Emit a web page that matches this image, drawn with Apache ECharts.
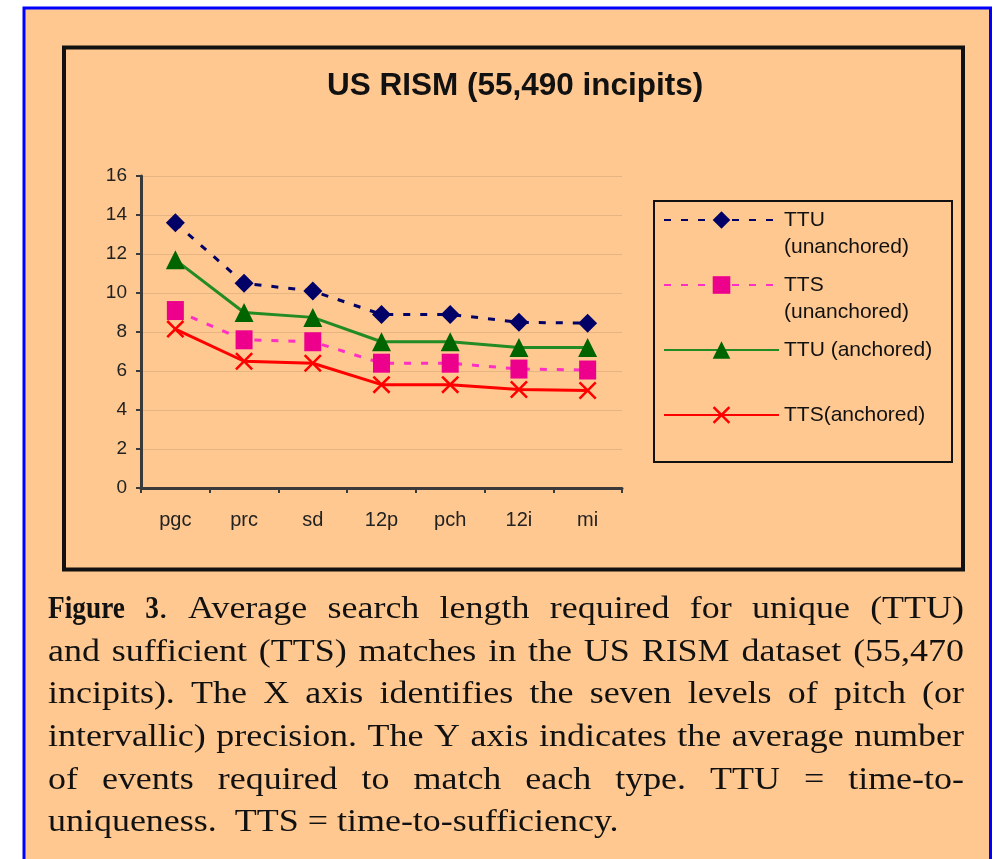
<!DOCTYPE html>
<html>
<head>
<meta charset="utf-8">
<style>
  html, body { margin: 0; padding: 0; background: #fff; }
  #main { width: 998px; height: 859px; }
</style>
<script src="https://cdn.jsdelivr.net/npm/echarts@6.0.0/dist/echarts.min.js"></script>
</head>
<body>
<div id="main"></div>
<script>
// data
const categories = ['pgc', 'prc', 'sd', '12p', 'pch', '12i', 'mi']
const ttuUnanchored = [13.6, 10.5, 10.1, 8.9, 8.9, 8.5, 8.45]
const ttsUnanchored = [9.1, 7.6, 7.5, 6.4, 6.4, 6.1, 6.05]
const ttuAnchored = [11.7, 9.0, 8.75, 7.5, 7.5, 7.2, 7.2]
const ttsAnchored = [8.15, 6.5, 6.4, 5.3, 5.3, 5.05, 5.0]
const yMin = 0
const yMax = 16
const yStep = 2

const chartTitle = 'US RISM (55,490 incipits)'
// ** marks bold parts, last line is not justified
const captionLines = [
  '**Figure 3**. Average search length required for unique (TTU)',
  'and sufficient (TTS) matches in the US RISM dataset (55,470',
  'incipits). The X axis identifies the seven levels of pitch (or',
  'intervallic) precision. The Y axis indicates the average number',
  'of events required to match each type. TTU = time-to-',
  'uniqueness.  TTS = time-to-sufficiency.'
]

const sans = '"Liberation Sans", Arial, sans-serif'
const serif = '"Liberation Serif", "Times New Roman", serif'
const crossPath = 'path://M0,2 L2,0 L10,8 L18,0 L20,2 L12,10 L20,18 L18,20 L10,12 L2,20 L0,18 L8,10 Z'

const chart = echarts.init(document.getElementById('main'))

// split a caption line into words, each word made of (text, bold) pieces
function parseLine(line) {
  const words = []
  let cur = []
  line.split('**').forEach((seg, k) => {
    const bold = k % 2 === 1
    seg.split(' ').forEach((w, j) => {
      if (j > 0) {
        if (cur.length) words.push(cur)
        cur = []
      }
      if (w) cur.push({ text: w, bold })
    })
  })
  if (cur.length) words.push(cur)
  return words
}

// justified caption built as graphic texts
function buildCaption() {
  const fontSize = 31
  const stretch = 1.16
  const boldSqueeze = 0.76 // the bold in the figure is narrow
  const lineWidth = 916 / stretch
  const ctx = document.createElement('canvas').getContext('2d')
  const measure = (t, bold) => {
    ctx.font = (bold ? 'bold ' : '') + fontSize + 'px ' + serif
    return ctx.measureText(t).width * (bold ? boldSqueeze : 1)
  }
  const children = []
  captionLines.forEach((line, i) => {
    const y = 610 + i * 42.6
    const last = i === captionLines.length - 1
    if (last) {
      children.push({
        type: 'text', x: 0, y,
        style: { text: line, fontSize, fontFamily: serif, fill: '#111', verticalAlign: 'middle' }
      })
      return
    }
    const words = parseLine(line)
    const widths = words.map(w => w.reduce((s, p) => s + measure(p.text, p.bold), 0))
    const total = widths.reduce((a, b) => a + b, 0)
    const gap = (lineWidth - total) / (words.length - 1)
    let x = 0
    words.forEach((w, k) => {
      let px = x
      w.forEach(p => {
        children.push({
          type: 'text', x: px, y,
          scaleX: p.bold ? boldSqueeze : 1,
          style: {
            text: p.text, fontSize, fontFamily: serif,
            fontWeight: p.bold ? 'bold' : 'normal',
            fill: '#111', verticalAlign: 'middle'
          }
        })
        px += measure(p.text, p.bold)
      })
      x += widths[k] + gap
    })
  })
  return { type: 'group', x: 48, y: 0, scaleX: stretch, children }
}

const seriesDefs = [
  { name: 'TTU (unanchored)', label: '\nTTU\n(unanchored)', data: ttuUnanchored, symbol: 'diamond', symbolSize: 19,
    color: '#000066', lineColor: '#000066', lineType: [7, 10], legendTop: 179.5 },
  { name: 'TTU (anchored)', label: 'TTU (anchored)', data: ttuAnchored, symbol: 'triangle', symbolSize: 19,
    color: '#006400', lineColor: '#238B23', lineType: 'solid', legendTop: 336.5 },
  { name: 'TTS (unanchored)', label: '\nTTS\n(unanchored)', data: ttsUnanchored, symbol: 'rect', symbolSize: [17, 19],
    color: '#EC008C', lineColor: '#FF2EC4', lineType: [7, 10], legendTop: 244.5 },
  { name: 'TTS (anchored)', label: 'TTS(anchored)', data: ttsAnchored, symbol: crossPath, symbolSize: 18,
    color: '#FF0000', lineColor: '#FF0000', lineType: 'solid', legendTop: 401.5 }
]

const option = {
  backgroundColor: '#ffffff',
  animation: false,
  title: {
    text: chartTitle,
    left: 327,
    top: 70,
    padding: 0,
    textStyle: { fontSize: 31.5, fontWeight: 'bold', fontFamily: sans, color: '#111' }
  },
  grid: { left: 141, right: 376, top: 176, bottom: 371 },
  xAxis: {
    type: 'category',
    data: categories,
    boundaryGap: true,
    axisLine: { lineStyle: { color: '#3a3a3a', width: 3 } },
    axisTick: { show: true, length: 5, lineStyle: { color: '#3a3a3a', width: 2 } },
    axisLabel: { fontSize: 20, fontFamily: sans, color: '#222', margin: 22 },
    splitLine: { show: false }
  },
  yAxis: {
    type: 'value',
    min: yMin,
    max: yMax,
    interval: yStep,
    axisLine: { show: true, lineStyle: { color: '#3a3a3a', width: 3 } },
    axisTick: { show: true, length: 5, lineStyle: { color: '#3a3a3a', width: 2 } },
    axisLabel: { fontSize: 19, fontFamily: sans, color: '#222', margin: 14 },
    splitLine: { lineStyle: { color: '#E7B581', width: 1 } }
  },
  legend: seriesDefs.map(s => ({
    data: [s.name],
    left: 663,
    top: s.legendTop,
    padding: 0,
    itemWidth: 115,
    itemHeight: 22,
    formatter: () => s.label,
    textStyle: { fontSize: 21, fontFamily: sans, color: '#111', lineHeight: 27 }
  })),
  graphic: [
    { type: 'rect', z: -10, shape: { x: 24, y: 8, width: 966.5, height: 870 },
      style: { fill: '#FFC891', stroke: '#0000FF', lineWidth: 3 } },
    { type: 'rect', z: -9, shape: { x: 64, y: 47.5, width: 899, height: 522 },
      style: { fill: 'none', stroke: '#111', lineWidth: 4 } },
    { type: 'rect', z: -9, shape: { x: 654, y: 201, width: 298, height: 261 },
      style: { fill: 'none', stroke: '#111', lineWidth: 2 } },
    buildCaption()
  ],
  series: seriesDefs.map(s => ({
    name: s.name,
    type: 'line',
    data: s.data,
    symbol: s.symbol,
    symbolSize: s.symbolSize,
    showAllSymbol: true,
    itemStyle: { color: s.color },
    lineStyle: { color: s.lineColor, width: 3, type: s.lineType },
    emphasis: { disabled: true }
  }))
}

chart.setOption(option)
</script>
</body>
</html>
